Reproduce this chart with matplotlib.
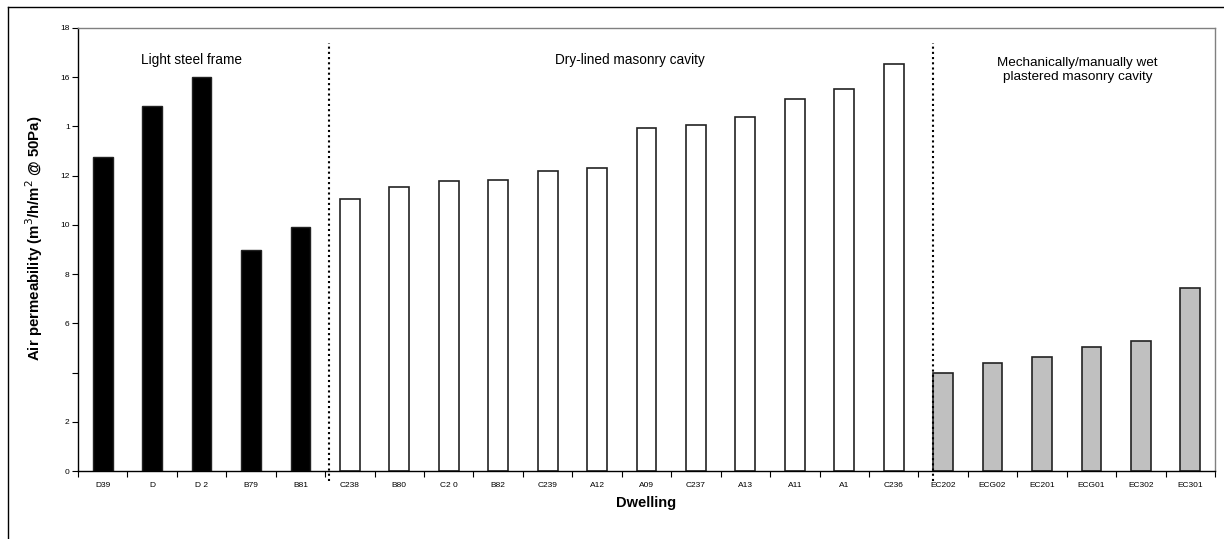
import matplotlib
matplotlib.use("Agg")
import matplotlib.pyplot as plt
from matplotlib.lines import Line2D

plt.rcParams['font.family'] = ['Liberation Sans', 'DejaVu Sans']

# ---- data ----
lsf_labels = ["D39", "D", "D 2", "B79", "B81"]
lsf_values = [12.76, 14.84, 16.0, 8.98, 9.92]

dry_labels = ["C238", "B80", "C2 0", "B82", "C239", "A12", "A09", "C237",
              "A13", "A11", "A1", "C236"]
dry_values = [11.06, 11.54, 11.79, 11.83, 12.2, 12.32, 13.94, 14.07,
              14.39, 15.12, 15.53, 16.54]

wet_labels = ["EC202", "ECG02", "EC201", "ECG01", "EC302", "EC301"]
wet_values = [4.0, 4.38, 4.65, 5.05, 5.3, 7.44]

ytick_values = [0, 2, 4, 6, 8, 10, 12, 14, 16, 18]
ytick_labels = ["0", "2", "", "6", "8", "10", "12", "1", "16", "18"]

group_titles = ["Light steel frame", "Dry-lined masonry cavity",
                "Mechanically/manually wet\nplastered masonry cavity"]

# ---- figure ----
W, H = 1224, 539
fig = plt.figure(figsize=(W / 100, H / 100), dpi=100)
ax = fig.add_axes([78 / W, 1 - 471 / H, (1215 - 78) / W, (471 - 28) / H])

labels = lsf_labels + dry_labels + wet_labels
n1, n2 = len(lsf_labels), len(dry_labels)
x_lsf = list(range(n1))
x_dry = list(range(n1, n1 + n2))
x_wet = list(range(n1 + n2, len(labels)))

bw = 0.4
ax.bar(x_lsf, lsf_values, width=bw, color="black", edgecolor="#222222", linewidth=1.0)
ax.bar(x_dry, dry_values, width=bw, color="white", edgecolor="#222222", linewidth=1.2)
ax.bar(x_wet, wet_values, width=bw, color="#c0c0c0", edgecolor="#222222", linewidth=1.2)

ax.set_xlim(-0.5, len(labels) - 0.5)
ax.set_ylim(0, 18)

ax.set_yticks(ytick_values)
ax.set_yticklabels(ytick_labels, fontsize=6)
ax.set_xticks(range(len(labels)))
ax.set_xticklabels(labels, fontsize=6)
ax.tick_params(axis="x", which="major", length=0, pad=8)
ax.set_xticks([i - 0.5 for i in range(len(labels) + 1)], minor=True)
ax.tick_params(axis="x", which="minor", length=4, width=0.8, direction="out", color="black")
ax.tick_params(axis="y", length=4, width=0.8, direction="out", pad=2)

for s in ["left", "bottom"]:
    ax.spines[s].set_color("black")
    ax.spines[s].set_linewidth(1.0)
for s in ["top", "right"]:
    ax.spines[s].set_color("#808080")
    ax.spines[s].set_linewidth(1.0)

ax.set_ylabel("Air permeability (m$^3$/h/m$^2$ @ 50Pa)", fontsize=10.8, fontweight="bold")
ax.yaxis.set_label_coords(-0.029, 0.526)
ax.set_xlabel("Dwelling", fontsize=10.5, fontweight="bold", labelpad=5)

# group dividers
for xd in [4.58, 16.79]:
    ax.plot([xd, xd], [-0.41, 17.4], color="black", linestyle=(0, (1, 1.5)),
            linewidth=1.5, clip_on=False)

# group titles
ax.text(1.79, 16.7, group_titles[0], fontsize=9.8, ha="center", va="center")
ax.text(10.67, 16.7, group_titles[1], fontsize=9.8, ha="center", va="center")
ax.text(19.72, 16.3, group_titles[2], fontsize=9.7, ha="center", va="center",
        linespacing=1.2)

# outer frame (top and left visible)
fig.add_artist(Line2D([8 / W, 8 / W], [0, 1 - 7 / H], transform=fig.transFigure,
                      color="black", linewidth=1.0))
fig.add_artist(Line2D([8 / W, 1], [1 - 7 / H, 1 - 7 / H], transform=fig.transFigure,
                      color="black", linewidth=1.0))

fig.savefig("out.png", dpi=100)
